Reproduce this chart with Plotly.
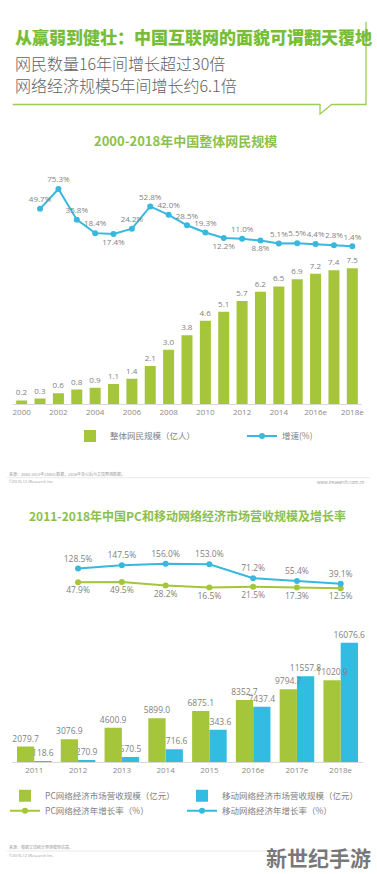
import plotly.graph_objects as go

W, H = 377, 874

# ---------------- data ----------------
years1 = [str(y) for y in range(2000, 2016)] + ["2016e", "2017e", "2018e"]
users = [0.2, 0.3, 0.6, 0.8, 0.9, 1.1, 1.4, 2.1, 3.0, 3.8, 4.6, 5.1, 5.7, 6.2, 6.5, 6.9, 7.2, 7.4, 7.5]
growth_years1 = years1[1:]
growth = [49.7, 75.3, 35.8, 18.4, 17.4, 24.2, 52.8, 42.0, 28.5, 19.3, 12.2, 11.0, 8.8, 5.1, 5.5, 4.4, 2.8, 1.4]
growth_pos = ["top center"] * len(growth)
for i, v in enumerate(growth):
    if v in (17.4, 12.2, 8.8):
        growth_pos[i] = "bottom center"
ticks1 = years1[::2]

years2 = ["2011", "2012", "2013", "2014", "2015", "2016e", "2017e", "2018e"]
pc_rev = [2079.7, 3076.9, 4600.9, 5899.0, 6875.1, 8352.7, 9794.7, 11020.9]
mobile_rev = [118.6, 270.9, 670.5, 1716.6, 4343.6, 7437.4, 11557.8, 16076.6]
growth_years2 = years2[1:]
pc_growth = [47.9, 49.5, 28.2, 16.5, 21.5, 17.3, 12.5]
mobile_growth = [128.5, 147.5, 156.0, 153.0, 71.2, 55.4, 39.1]

# ---------------- styles ----------------
GREEN = "#A5C63A"
BLUE = "#38B8DF"
BLUE_BAR = "#33BCE1"
LBL = "#7f7f7f"
NUMFONT = "Open Sans"
CJK = "Noto Sans CJK SC"


def px(x):
    return x / W


def py(y):
    return 1 - y / H


fig = go.Figure()

# chart 1
fig.add_trace(go.Bar(
    x=years1, y=users, xaxis="x", yaxis="y", name="整体网民规模（亿人）",
    marker=dict(color=GREEN, line=dict(width=0)), width=0.6,
    texttemplate="%{y:.1f}", textposition="outside", cliponaxis=False,
    constraintext="none", textfont=dict(family=NUMFONT, size=8, color=LBL),
    legend="legend", legendwidth=127, hoverinfo="skip",
))
fig.add_trace(go.Scatter(
    x=growth_years1, y=growth, xaxis="x", yaxis="y2", name="增速(%)",
    mode="lines+markers+text", line=dict(color=BLUE, width=2),
    marker=dict(color=BLUE, size=6), texttemplate="%{y:.1f}%",
    textposition=growth_pos, cliponaxis=False,
    textfont=dict(family=NUMFONT, size=8, color=LBL),
    legend="legend", hoverinfo="skip",
))

# chart 2 (mobile bars drawn first so PC labels sit on top, as in the original)
fig.add_trace(go.Bar(
    x=years2, y=mobile_rev, xaxis="x3", yaxis="y3", name="移动网络经济市场营收规模（亿元）",
    marker=dict(color=BLUE_BAR, line=dict(width=0)), width=0.395, offset=0,
    texttemplate="%{y:.1f}", textposition="outside", cliponaxis=False,
    constraintext="none", textfont=dict(family=NUMFONT, size=8.5, color=LBL),
    legend="legend2", legendrank=2, hoverinfo="skip",
))
fig.add_trace(go.Bar(
    x=years2, y=pc_rev, xaxis="x3", yaxis="y3", name="PC网络经济市场营收规模（亿元）",
    marker=dict(color=GREEN, line=dict(width=0)), width=0.395, offset=-0.395,
    texttemplate="%{y:.1f}", textposition="outside", cliponaxis=False,
    constraintext="none", textfont=dict(family=NUMFONT, size=8.5, color=LBL),
    legend="legend2", legendrank=1, legendwidth=132, hoverinfo="skip",
))
fig.add_trace(go.Scatter(
    x=growth_years2, y=pc_growth, xaxis="x3", yaxis="y4", name="PC网络经济年增长率（%）",
    mode="lines+markers+text", line=dict(color=GREEN, width=2),
    marker=dict(color=GREEN, size=6), texttemplate="%{y:.1f}%",
    textposition="bottom center", cliponaxis=False,
    textfont=dict(family=NUMFONT, size=8.5, color=LBL),
    legend="legend3", legendwidth=132, hoverinfo="skip",
))
fig.add_trace(go.Scatter(
    x=growth_years2, y=mobile_growth, xaxis="x3", yaxis="y4", name="移动网络经济年增长率（%）",
    mode="lines+markers+text", line=dict(color=BLUE, width=2),
    marker=dict(color=BLUE, size=6), texttemplate="%{y:.1f}%",
    textposition="top center", cliponaxis=False,
    textfont=dict(family=NUMFONT, size=8.5, color=LBL),
    legend="legend3", hoverinfo="skip",
))

hidden_y = dict(visible=False, showgrid=False, zeroline=False, fixedrange=True)
xax = dict(
    type="category", showgrid=False, zeroline=False, showline=True,
    linecolor="#d9d9d9", linewidth=1, ticks="", automargin=False,
    tickfont=dict(family=NUMFONT, size=8, color="#8a8a8a"),
)
legfont = dict(family=CJK, size=8.5, color="#808080")
leg = dict(orientation="h", xanchor="left", yanchor="middle", font=legfont,
           bgcolor="rgba(0,0,0,0)", borderwidth=0, traceorder="normal")

fig.update_layout(
    width=W, height=H, autosize=False, margin=dict(l=0, r=0, t=0, b=0),
    paper_bgcolor="white", plot_bgcolor="rgba(0,0,0,0)",
    barmode="overlay",
    xaxis=dict(xax, domain=[px(12.5), px(361.5)], anchor="y",
               range=[-0.5, len(years1) - 0.5],
               tickmode="array", tickvals=ticks1, ticktext=ticks1),
    yaxis=dict(hidden_y, domain=[py(404), py(180)], range=[0, 224 / 18.09], anchor="x"),
    yaxis2=dict(hidden_y, domain=[py(247.4), py(170)], range=[0, 77.4 / 0.7754], anchor="x"),
    xaxis3=dict(xax, domain=[px(12.4), px(362.6)], anchor="y3",
                range=[-0.5, len(years2) - 0.5]),
    yaxis3=dict(hidden_y, domain=[py(762), py(625)], range=[0, 137 / 0.007421], anchor="x3"),
    yaxis4=dict(hidden_y, domain=[py(590.4), py(540)], range=[0, 50.4 / 0.171], anchor="x3"),
    legend=dict(leg, x=px(70), y=py(436)),
    legend2=dict(leg, x=px(5), y=py(795.7)),
    legend3=dict(leg, x=px(5), y=py(810.7)),
)

ann = []


def text(x, y, s, size, color, family=CJK, anchor="left", weight="normal"):
    ann.append(dict(x=px(x), y=py(y), xref="paper", yref="paper", text=s,
                    showarrow=False, xanchor=anchor, yanchor="middle",
                    font=dict(family=family, size=size, color=color, weight=weight)))


# header
text(13, 36.7, "从羸弱到健壮：中国互联网的面貌可谓翻天覆地", 17, "#76BE38", weight=900)
text(13, 63.3, "网民数量16年间增长超过30倍", 16, "#626262", weight=300)
text(13, 85.5, "网络经济规模5年间增长约6.1倍", 16, "#626262", weight=300)

# chart titles
text(185, 140, "2000-2018年中国整体网民规模", 13, "#8DBF4C", anchor="center", weight="bold")
text(187.5, 515, "2011-2018年中国PC和移动网络经济市场营收规模及增长率", 12, "#8DBF4C",
     anchor="center", weight="bold")

# footnotes
text(7, 474, "来源：2000-2015年CNNIC数据，2016年及以后为艾瑞预测数据。", 4, "#9a9a9a")
text(7, 481.7, "©2016.12 iResearch Inc.", 4, "#9a9a9a", family=NUMFONT)
text(367, 481.7, "www.iresearch.com.cn", 4.5, "#9a9a9a", family=NUMFONT, anchor="right")
text(7, 847.3, "来源：根据艾瑞统计预测模型估算。", 4, "#9a9a9a")
text(7, 855, "©2016.12 iResearch Inc.", 4, "#9a9a9a", family=NUMFONT)

# watermark
text(318.5, 857, "新世纪手游", 21, "rgba(95,95,95,0.85)", anchor="center", weight="bold")

fig.update_layout(annotations=ann)

# decorative border with speech-bubble notch
pts = [(12.7, 104.5), (320, 104.5), (320, 114), (331.7, 104.5), (366, 104.5), (366, 21.7)]
path = "M " + " L ".join(f"{px(a):.5f},{py(b):.5f}" for a, b in pts)
shapes = [
    dict(type="path", path=path, xref="paper", yref="paper",
         line=dict(color="#9CCB5A", width=1.3)),
    dict(type="line", xref="paper", yref="paper", x0=px(7), x1=px(370), y0=py(477.7), y1=py(477.7),
         line=dict(color="#e3e3e3", width=0.8)),
    dict(type="line", xref="paper", yref="paper", x0=px(7), x1=px(370), y0=py(851), y1=py(851),
         line=dict(color="#e3e3e3", width=0.8)),
]
fig.update_layout(shapes=shapes)

fig.write_html(
    "out.html",
    config={"displayModeBar": False},
    post_script="document.body.style.margin='0';document.body.style.padding='0';"
                "document.documentElement.style.overflow='hidden';",
)
